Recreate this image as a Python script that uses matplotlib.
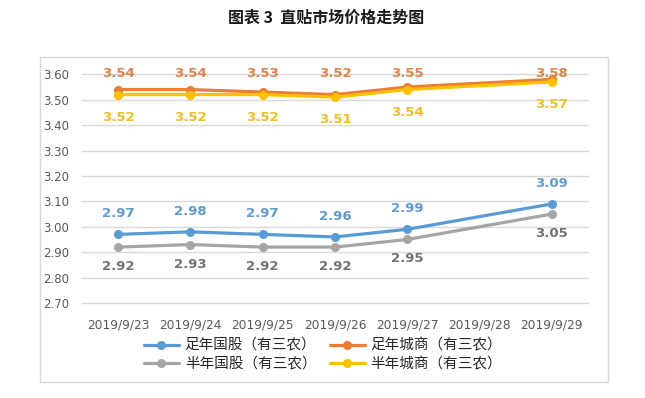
import numpy as np
import matplotlib
matplotlib.use("Agg")
import matplotlib.pyplot as plt
from matplotlib.patches import Rectangle
from matplotlib.transforms import offset_copy, blended_transform_factory

plt.rcParams['font.family'] = ['DejaVu Sans', 'Noto Sans CJK SC']

# data
dates = ["2019/9/23", "2019/9/24", "2019/9/25", "2019/9/26", "2019/9/27", "2019/9/28", "2019/9/29"]
zu_guogu = [2.97, 2.98, 2.97, 2.96, 2.99, np.nan, 3.09]
zu_chengshang = [3.54, 3.54, 3.53, 3.52, 3.55, np.nan, 3.58]
ban_guogu = [2.92, 2.93, 2.92, 2.92, 2.95, np.nan, 3.05]
ban_chengshang = [3.52, 3.52, 3.52, 3.51, 3.54, np.nan, 3.57]
names = ["足年国股（有三农）", "足年城商（有三农）", "半年国股（有三农）", "半年城商（有三农）"]
y_ticks = [2.70, 2.80, 2.90, 3.00, 3.10, 3.20, 3.30, 3.40, 3.50, 3.60]

W, H, DPI = 645, 398, 100
fig = plt.figure(figsize=(W / DPI, H / DPI), dpi=DPI)
fig.patch.set_facecolor("white")

# chart frame
fig.patches.append(Rectangle((40 / W, 1 - 382 / H), 568 / W, 325 / H, transform=fig.transFigure,
                             facecolor="none", edgecolor="#D9D9D9", linewidth=1))

fig.text(326 / W, 1 - 18 / H, "图表 3  直贴市场价格走势图", ha="center", va="center",
         fontsize=11.5, fontweight="bold", family="Noto Sans CJK SC", color="#1a1a1a")

ax = fig.add_axes([82 / W, 1 - 303 / H, 506 / W, (303 - 74.3) / H])
x = np.arange(len(dates))

# (values, line colour, label colour, label offset in px; None = pinned to top)
series = [
    (zu_guogu, "#5B9BD5", "#5B9BD5", 20.5),
    (zu_chengshang, "#ED7D31", "#E0834A", None),
    (ban_guogu, "#A5A5A5", "#767171", -19.5),
    (ban_chengshang, "#FFC000", "#F2BE22", -22.5),
]
handles = {}
for i, (vals, c, lc, off) in enumerate(series):
    v = np.array(vals)
    m = ~np.isnan(v)
    h, = ax.plot(x[m], v[m], color=c, linewidth=2.3, marker="o", markersize=5.5,
                 solid_capstyle="round", zorder=3 + i)
    handles[i] = h
    for xi, yi in zip(x[m], v[m]):
        if off is None:
            tr = blended_transform_factory(ax.transData, ax.transAxes)
            ax.text(xi, 1.0, f"{yi:.2f}", transform=offset_copy(tr, fig=fig, y=0.5, units="dots"),
                    ha="center", va="center", fontsize=9.5, fontweight="bold", color=lc, zorder=10)
        else:
            ax.text(xi, yi, f"{yi:.2f}", transform=offset_copy(ax.transData, fig=fig, y=off, units="dots"),
                    ha="center", va="center", fontsize=9.5, fontweight="bold", color=lc, zorder=10)

ax.set_xlim(-0.5, len(dates) - 0.5)
ax.set_ylim(2.70, 3.60)
ax.set_yticks(y_ticks)
ax.set_yticklabels([f"{t:.2f}" for t in y_ticks])
ax.set_xticks(x)
ax.set_xticklabels(dates)
ax.tick_params(axis="y", length=0, pad=9, labelsize=8.5, labelcolor="#595959")
ax.tick_params(axis="x", length=0, pad=11, labelsize=8.8, labelcolor="#595959")
ax.grid(axis="y", color="#D9D9D9", linewidth=1)
for gl in ax.get_ygridlines():
    gl.set_clip_on(False)
ax.set_axisbelow(True)
for s in ax.spines.values():
    s.set_visible(False)

leg = fig.legend([handles[0], handles[2], handles[1], handles[3]],
                 [names[0], names[2], names[1], names[3]],
                 ncol=2, loc="center", bbox_to_anchor=(323 / W, 1 - 355 / H),
                 frameon=False, prop={"family": "Noto Sans CJK SC", "size": 10.5},
                 handlelength=2.4, handletextpad=0.4, columnspacing=0.9, labelspacing=0.3)
for t in leg.get_texts():
    t.set_color("#262626")

fig.savefig("out.png", dpi=DPI)
